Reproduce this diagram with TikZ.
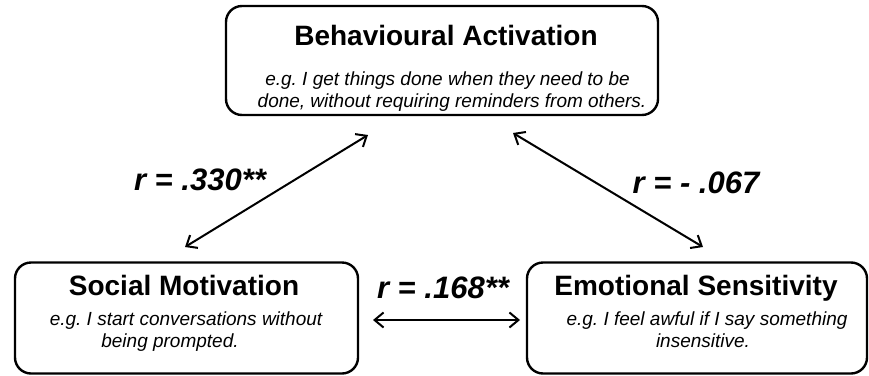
\documentclass[tikz,border=0pt]{standalone}
\usepackage{fontspec}
\setmainfont{Liberation Sans}
\usetikzlibrary{arrows.meta}
\frenchspacing
\begin{document}
\begin{tikzpicture}[x=1pt,y=-1pt,
  box/.style={draw=black,line width=2.4pt,rounded corners=16pt,minimum width=#1,inner sep=0pt},
  ttl/.style={anchor=base,font=\fontsize{28}{32}\selectfont\bfseries},
  ex/.style={anchor=base,font=\fontsize{19}{22}\selectfont\itshape\frenchspacing},
  rlab/.style={anchor=base,font=\fontsize{31}{36}\selectfont\bfseries\itshape},
  conn/.style={line width=2pt,{Straight Barb[length=9pt,width=15pt,line width=2pt]}-{Straight Barb[length=9pt,width=15pt,line width=2pt]}}]
\useasboundingbox (0,0) rectangle (869,375);
% boxes
\node[box=432pt,minimum height=109pt] (ba) at (442,60.5) {};
\node[box=343pt,minimum height=111pt] (sm) at (186.5,318) {};
\node[box=340pt,minimum height=111pt] (es) at (697,318) {};
% texts
\node[ttl] (baT) at (446,45) {Behavioural Activation};
\node[ex] (baL1) at (447.5,85) {e.g. I get things done when they need to be};
\node[ex] (baL2) at (452,107) {done, without requiring reminders from others.};
\node[ttl] (smT) at (184,295) {Social Motivation};
\node[ex] (smL1) at (186,325) {e.g. I start conversations without};
\node[ex] (smL2) at (170,347) {being prompted.};
\node[ttl] (esT) at (696,295) {Emotional Sensitivity};
\node[ex] (esL1) at (707,325) {e.g. I feel awful if I say something};
\node[ex] (esL2) at (703,347) {insensitive.};
% labels
\node[rlab] (r1) at (200,190) {r = .330**};
\node[rlab] (r2) at (696,193) {r = - .067};
\node[rlab] (r3) at (443,298) {r = .168**};
% connectors
\coordinate (a1) at (185,247);
\coordinate (a2) at (368,135);
\coordinate (b1) at (513,133);
\coordinate (b2) at (703,247);
\coordinate (c1) at (373,320);
\coordinate (c2) at (520,320);
\draw[conn] (a1) -- (a2);
\draw[conn] (b1) -- (b2);
\draw[conn] (c1) -- (c2);
\end{tikzpicture}
\end{document}
